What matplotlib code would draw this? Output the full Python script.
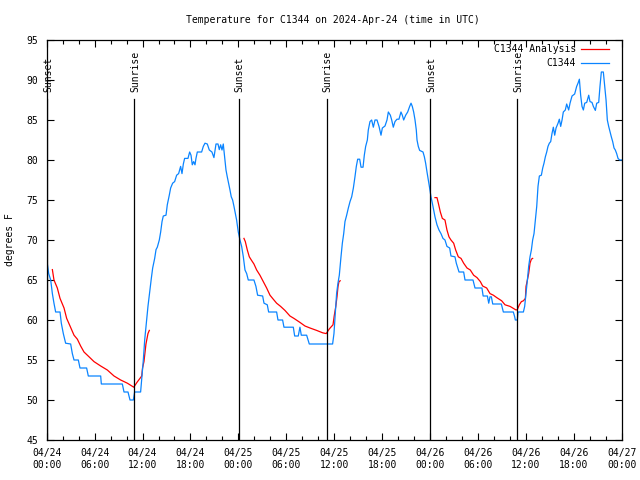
import matplotlib
matplotlib.use("Agg")
import matplotlib.pyplot as plt
from matplotlib.ticker import FixedLocator, MultipleLocator

plt.rcParams['font.family'] = ['DejaVu Sans Mono']
plt.rcParams['font.size'] = 7

# hours since 2024-04-24 00:00 UTC
blue_h = [0.08, 0.25, 0.5, 0.71, 0.91, 1.12, 1.67, 1.83, 2.08, 2.37, 3.0, 3.21, 3.42, 3.96, 4.17,
          5.0, 5.21, 6.76, 6.84, 9.47, 9.68, 10.18, 10.43, 10.85, 11.01, 11.76, 11.89, 12.1, 12.27,
          12.52, 12.68, 12.93, 13.1, 13.27, 13.52, 13.69, 13.85, 14.1, 14.27, 14.44, 14.6, 14.94,
          15.1, 15.35, 15.52, 15.77, 16.02, 16.27, 16.52, 16.77, 16.94, 17.11, 17.27, 17.69, 17.9,
          18.07, 18.23, 18.4, 18.57, 18.69, 18.86, 19.4, 19.61, 19.82, 20.11, 20.36, 20.69, 20.94,
          21.2, 21.45, 21.61, 21.78, 21.95, 22.11, 22.28, 22.45, 22.61, 22.78, 22.95, 23.11, 23.28,
          23.45, 23.62, 23.78, 23.99, 24.2, 24.41, 24.62, 24.83, 25.04, 25.24, 25.95, 26.2, 26.41,
          27.04, 27.21, 27.62, 27.79, 28.79, 28.96, 29.54, 29.71, 30.88, 31.05, 31.5, 31.71, 31.88,
          32.55, 32.88, 35.8, 35.97, 36.14, 36.3, 36.47, 36.64, 36.85, 37.02, 37.19, 37.35, 37.56,
          37.77, 37.98, 38.19, 38.4, 38.6, 38.77, 38.94, 39.19, 39.36, 39.61, 39.77, 39.94, 40.15,
          40.27, 40.48, 40.69, 40.9, 41.11, 41.36, 41.61, 41.86, 42.03, 42.36, 42.61, 42.78, 43.03,
          43.2, 43.4, 43.61, 43.86, 44.11, 44.36, 44.53, 44.7, 44.95, 45.2, 45.45, 45.62, 45.78,
          45.95, 46.12, 46.28, 46.37, 46.53, 46.7, 47.12, 47.29, 47.45, 47.62, 47.79, 47.95, 48.12,
          48.29, 48.45, 48.62, 48.87, 49.12, 49.37, 49.62, 49.87, 50.12, 50.46, 50.62, 51.12, 51.29,
          51.63, 52.21, 52.38, 53.38, 53.63, 54.5, 54.65, 55.18, 55.35, 55.51, 55.68, 55.85, 56.93,
          57.18, 58.43, 58.6, 58.68, 58.93, 59.02, 59.69, 59.85, 60.02, 60.19, 60.35, 60.52, 60.69,
          60.85, 61.02, 61.19, 61.36, 61.52, 61.69, 61.94, 62.11, 62.27, 62.44, 62.61, 62.77, 62.94,
          63.11, 63.27, 63.44, 63.61, 63.78, 64.03, 64.19, 64.36, 64.53, 64.69, 64.94, 65.11, 65.36,
          65.53, 65.78, 66.11, 66.36, 66.53, 66.7, 66.86, 67.03, 67.2, 67.37, 67.62, 67.87, 68.03,
          68.28, 68.45, 68.7, 68.87, 69.12, 69.28, 69.45, 69.7, 69.87, 70.04, 70.2, 70.37, 70.54,
          70.7, 70.87, 71.04, 71.2, 71.37, 71.54, 71.75, 72.0]
blue_t = [67.0, 65.8, 65.0, 63.3, 62.1, 61.0, 61.0, 59.6, 58.3, 57.1, 57.0, 55.8, 55.0, 55.0, 54.0,
          54.0, 53.0, 53.0, 52.0, 52.0, 51.0, 51.0, 50.0, 50.0, 51.0, 51.0, 52.5, 55.0, 57.5,
          60.0, 61.7, 63.8, 65.2, 66.5, 67.7, 68.8, 69.1, 70.0, 71.0, 72.3, 73.0, 73.1,
          74.4, 75.6, 76.5, 77.1, 77.3, 78.1, 78.3, 79.2, 78.3, 79.5, 80.2, 80.2, 81.0,
          80.6, 79.4, 79.8, 79.4, 80.2, 81.0, 81.0, 81.7, 82.1, 82.0, 81.25, 81.0, 80.3,
          82.0, 82.0, 81.3, 81.9, 81.25, 82.0, 80.4, 78.75, 77.9, 77.1, 76.25, 75.4, 75.0,
          74.2, 73.3, 72.5, 71.0, 70.0, 69.2, 67.9, 66.25, 65.8, 65.0, 65.0, 64.2, 63.1,
          63.0, 62.1, 61.9, 61.0, 61.0, 60.0, 60.0, 59.1, 59.1, 58.0, 58.0, 59.1, 58.1,
          58.1, 57.0, 57.0, 58.3, 60.8, 63.3, 64.6, 65.6, 67.9, 69.6, 70.8, 72.3, 73.1,
          74.0, 74.8, 75.4, 76.5, 77.9, 79.2, 80.1, 80.1, 79.1, 79.1, 80.6, 81.7, 82.5,
          83.75, 84.8, 85.0, 84.1, 85.0, 85.0, 84.2, 83.1, 84.0, 84.25, 85.0, 86.0, 85.6,
          85.0, 84.1, 84.8, 85.1, 85.1, 86.0, 85.6, 85.0, 85.6, 86.0, 86.7, 87.1, 86.7,
          86.0, 85.0, 83.75, 82.5, 81.7, 81.2, 81.0, 80.4, 79.6, 78.5, 77.5, 76.5, 75.4,
          74.6, 73.75, 72.9, 71.9, 71.25, 70.8, 70.2, 70.0, 69.2, 69.0, 68.0, 67.9, 67.1,
          66.0, 66.0, 65.0, 65.0, 64.0, 64.0, 63.0, 63.0, 62.1, 62.9, 62.9, 62.0, 62.0,
          61.0, 61.0, 60.4, 60.0, 60.0, 61.0, 61.0, 61.7, 63.3, 65.0, 66.7, 67.9, 68.75,
          70.0, 70.8, 72.5, 74.2, 76.7, 78.0, 78.1, 79.0, 79.6, 80.4, 81.0, 81.7, 82.1,
          82.3, 83.3, 84.1, 83.1, 84.0, 84.6, 85.1, 84.2, 85.0, 86.0, 86.25, 87.0, 86.25,
          87.1, 88.0, 88.25, 89.2, 89.6, 90.1, 88.1, 86.7, 86.25, 87.1, 87.2, 88.1, 87.3,
          87.2, 86.7, 86.2, 87.1, 87.2, 89.2, 91.0, 91.0, 89.2, 87.5, 85.0, 84.2, 83.5,
          82.9, 82.3, 81.5, 81.25, 80.8, 80.2, 80.0, 80.0]

# analysis curve, one piece per night
ana1_h = [0.71, 0.91, 1.33, 1.67, 2.17, 2.5, 2.92, 3.42, 3.84, 4.25, 4.67, 5.3, 5.92, 6.76, 7.59,
          8.43, 9.26, 10.1, 10.9, 11.3, 11.9, 12.0, 12.18, 12.43, 12.68, 12.85]
ana1_t = [66.3, 65.0, 64.0, 62.7, 61.5, 60.2, 59.25, 58.1, 57.6, 56.75, 56.0, 55.4, 54.8, 54.25,
          53.75, 53.0, 52.5, 52.1, 51.6, 52.2, 53.0, 54.0, 54.8, 57.0, 58.3, 58.7]
ana2_h = [24.7, 24.87, 25.12, 25.37, 25.62, 25.95, 26.29, 26.7, 27.12, 27.54, 27.96, 28.37, 28.79,
          29.29, 29.83, 30.46, 30.96, 31.71, 32.34, 32.97, 33.8, 34.55, 35.0, 35.4, 35.85, 36.0,
          36.2, 36.35, 36.48, 36.6, 36.75]
ana2_t = [70.2, 69.8, 68.75, 67.9, 67.5, 67.0, 66.25, 65.6, 64.8, 64.0, 63.1, 62.6, 62.1, 61.7,
          61.2, 60.5, 60.2, 59.7, 59.25, 59.0, 58.7, 58.4, 58.3, 58.9, 59.4, 60.5, 61.7, 62.9,
          64.2, 64.8, 64.9]
ana3_h = [48.62, 48.87, 49.04, 49.29, 49.54, 49.87, 50.12, 50.37, 50.62, 50.96, 51.21, 51.54,
          51.88, 52.21, 52.63, 53.04, 53.46, 53.88, 54.3, 54.59, 55.09, 55.51, 55.93, 56.35,
          56.97, 57.39, 58.02, 58.77, 58.93, 59.18, 59.44, 59.69, 59.94, 60.02, 60.19, 60.35,
          60.52, 60.69, 60.85]
ana3_t = [75.3, 75.3, 74.6, 73.5, 72.7, 72.5, 71.25, 70.4, 70.0, 69.6, 68.75, 67.9, 67.7, 67.1,
          66.5, 66.25, 65.6, 65.3, 64.8, 64.25, 64.0, 63.3, 63.1, 62.8, 62.4, 61.9, 61.7, 61.25,
          61.3, 61.9, 62.3, 62.4, 62.7, 64.2, 65.0, 65.8, 67.1, 67.6, 67.7]

event_h = [0.05, 10.97, 24.04, 35.06, 48.04, 58.93]
event_names = ["Sunset", "Sunrise", "Sunset", "Sunrise", "Sunset", "Sunrise"]

tick_h = list(range(0, 73, 6))
tick_labels = ["04/24\n00:00", "04/24\n06:00", "04/24\n12:00", "04/24\n18:00",
               "04/25\n00:00", "04/25\n06:00", "04/25\n12:00", "04/25\n18:00",
               "04/26\n00:00", "04/26\n06:00", "04/26\n12:00", "04/26\n18:00",
               "04/27\n00:00"]

fig = plt.figure(figsize=(6.4, 4.8), dpi=100)
ax = fig.add_axes([46.7 / 640, 40 / 480, 575 / 640, 400 / 480])

red = "#ff0000"
blue = "#0a84ff"
ax.plot(ana1_h, ana1_t, color=red, lw=0.9, label="C1344 Analysis")
ax.plot(ana2_h, ana2_t, color=red, lw=0.9)
ax.plot(ana3_h, ana3_t, color=red, lw=0.9)
ax.plot(blue_h, blue_t, color=blue, lw=0.9, label="C1344")

for h, name in zip(event_h, event_names):
    ax.axvline(h, ymin=0, ymax=0.852, color="black", lw=0.9)
    ax.text(h + 0.1, 88.5, name, rotation=90, ha="center", va="bottom")

ax.set_xlim(0, 72)
ax.set_ylim(45, 95)
ax.xaxis.set_major_locator(FixedLocator(tick_h))
ax.set_xticklabels(tick_labels)
ax.xaxis.set_minor_locator(MultipleLocator(2))
ax.yaxis.set_major_locator(MultipleLocator(5))
ax.tick_params(which="both", direction="in", top=True, right=True, width=0.8)
ax.tick_params(which="major", length=5)
ax.tick_params(which="minor", length=3)
ax.tick_params(axis="x", pad=6)
ax.tick_params(axis="y", pad=6)
for s in ax.spines.values():
    s.set_linewidth(0.9)

leg = ax.legend(loc="upper right", bbox_to_anchor=(0.983, 0.997), frameon=False,
                markerfirst=False, handlelength=2.9, borderaxespad=0, borderpad=0.3,
                labelspacing=0.45, handletextpad=0.5)

fig.text(0.016, 0.5, "degrees F", rotation=90, ha="center", va="center")
fig.text(0.52, 0.958, "Temperature for C1344 on 2024-Apr-24 (time in UTC)", ha="center", va="center")

fig.savefig("out.png", dpi=100)
